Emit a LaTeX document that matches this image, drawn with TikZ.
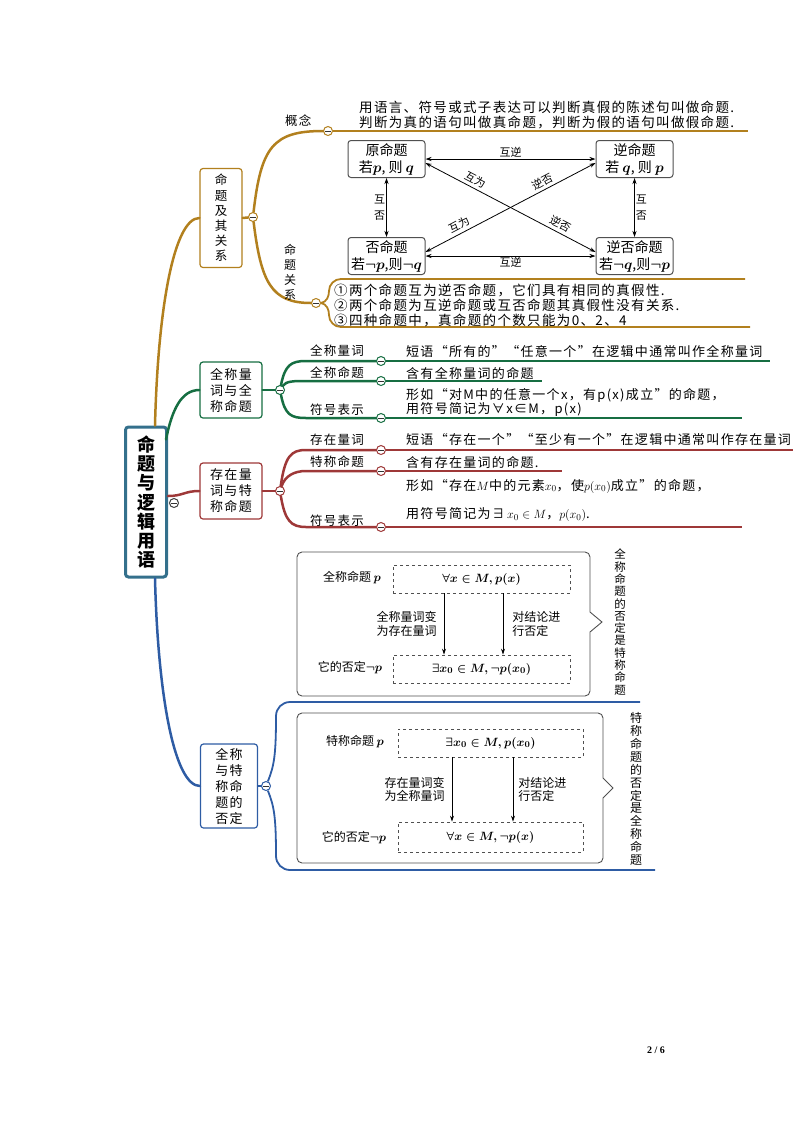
\documentclass[tikz,border=0pt]{standalone}
\usepackage{fontspec}
\usepackage{bm}
\setmainfont{Liberation Serif}
\newfontfamily\cjk{Noto Sans CJK SC}
\newfontfamily\cjkwide[LetterSpace=10]{Noto Sans CJK SC}
\usetikzlibrary{arrows.meta, positioning, calc}
\definecolor{rootcolor}{RGB}{52,112,140}
\definecolor{relcolor}{RGB}{178,128,30}
\definecolor{allcolor}{RGB}{22,110,66}
\definecolor{existcolor}{RGB}{158,56,56}
\definecolor{negcolor}{RGB}{46,92,164}
\definecolor{boxgray}{RGB}{80,80,80}

\begin{document}
\begin{tikzpicture}[
    x=1pt, y=-1pt,
    every node/.style={font=\cjk\fontsize{12}{14}\selectfont, inner sep=1pt},
    topic/.style={draw=#1, line width=1.2pt, rounded corners=3pt, fill=white, align=center, inner sep=2pt, font=\cjkwide\fontsize{13}{16}\selectfont},
    fold/.style={circle, draw=#1, fill=white, line width=1pt, minimum size=9pt, inner sep=0pt,
        path picture={\draw[line width=1pt, black!80] ([xshift=-2.6pt]path picture bounding box.center) -- ([xshift=2.6pt]path picture bounding box.center);}},
    branch/.style={draw=#1, line width=2.5pt, line cap=round},
    twig/.style={draw=#1, line width=1.3pt},
    tag/.style={font=\cjkwide\fontsize{12.5}{15}\selectfont, anchor=west},
    desc/.style={font=\cjkwide\fontsize{13}{15}\selectfont, anchor=west, align=left},
    prop/.style={draw=boxgray, line width=1pt, rounded corners=3pt, fill=white, minimum width=77pt, minimum height=37pt, align=center, inner sep=1pt, font=\cjk\fontsize{14}{17}\selectfont\boldmath},
    rel/.style={font=\cjk\fontsize{11}{16}\selectfont, inner sep=1pt, align=center},
    dual/.style={{Stealth[length=6pt,width=4pt]}-{Stealth[length=6pt,width=4pt]}, line width=0.8pt},
    flow/.style={-{Stealth[length=6pt,width=4pt]}, line width=0.8pt},
    dashbox/.style={draw=boxgray, dashed, line width=0.8pt, minimum height=28pt, font=\fontsize{12.5}{14}\selectfont\boldmath},
    note/.style={font=\cjk\fontsize{12}{13.5}\selectfont, align=left, inner sep=0pt},
    cell/.style={font=\cjk\fontsize{12}{14}\selectfont\boldmath},
    panel/.style={draw=boxgray, line width=0.9pt, rounded corners=5pt},
    sidecol/.style={font=\cjk\fontsize{11.5}{12.3}\selectfont, align=center, inner sep=0pt}
]
\useasboundingbox (0,0) rectangle (794,1122);

% central topic
\node[draw=rootcolor, line width=3pt, rounded corners=3pt, fill=white, minimum width=41pt, minimum height=150pt, align=center, font=\cjk\bfseries\fontsize{18}{19.2}\selectfont] (root) at (146,502) {命\\题\\与\\逻\\辑\\用\\语};
\node[fold=black!75] (f0) at (174,503) {};

% main topics
\node[topic=relcolor, minimum width=42pt, minimum height=99pt, font=\cjk\fontsize{12.5}{15.2}\selectfont] (rel) at (221,218) {命\\题\\及\\其\\关\\系};
\node[topic=allcolor, minimum width=62pt, minimum height=56pt] (all) at (231,390) {全称量\\词与全\\称命题};
\node[topic=existcolor, minimum width=62pt, minimum height=56pt] (exist) at (231,491) {存在量\\词与特\\称命题};
\node[topic=negcolor, minimum width=57pt, minimum height=84pt] (neg) at (229,786) {全称\\与特\\称命\\题的\\否定};

\draw[branch=relcolor] ([xshift=9pt]root.north) .. controls +(3,-120) and +(-25,0) .. (rel.west);
\draw[branch=allcolor] ([xshift=-2pt,yshift=-14pt]root.north east) .. controls +(6,-30) and +(-18,0) .. (all.west);
\draw[branch=existcolor] ([yshift=6pt]root.east) .. controls +(15,0) and +(-15,0) .. (exist.west);
\draw[branch=negcolor] ([xshift=9pt]root.south) .. controls +(3,120) and +(-25,0) .. (neg.west);

% propositions and their relations
\node[fold=relcolor] (f1) at (253,217) {};
\node[fold=relcolor] (f11) at (328,131) {};
\node[fold=relcolor] (f12) at (316,303) {};
\coordinate (c11) at (748,131);
\coordinate (r1) at (745,279);
\coordinate (r2) at (750,327);
\draw[branch=relcolor] (rel.east) -- (f1);
\draw[branch=relcolor] (f1) .. controls +(8,-70) and +(-55,0) .. (f11);
\draw[branch=relcolor] (f1) .. controls +(8,65) and +(-45,0) .. (f12);
\draw[twig=relcolor] (f11) -- (c11);
\draw[twig=relcolor, line width=1.8pt] (f12.east) to[out=10,in=-90] ++(8,-12) to[out=90,in=180] ++(12,-12) -- (r1);
\draw[twig=relcolor, line width=1.8pt] (f12.east) to[out=-10,in=90] ++(8,12) to[out=-90,in=180] ++(12,12) -- (r2);
\node[tag] (t11) at (284,121) {概念};
\node[rel, font=\cjk\fontsize{12}{15}\selectfont] (t12) at (290,272) {命\\题\\关\\系};
\node[desc, font=\cjkwide\fontsize{13.5}{15}\selectfont] (con) at (358,115) {用语言、符号或式子表达可以判断真假的陈述句叫做命题.\\判断为真的语句叫做真命题，判断为假的语句叫做假命题.};
\node[desc, font=\cjkwide\fontsize{13.5}{15}\selectfont] (facts) at (333,305) {①两个命题互为逆否命题，它们具有相同的真假性.\\②两个命题为互逆命题或互否命题其真假性没有关系.\\③四种命题中，真命题的个数只能为0、2、4};

\node[prop] (p0) at (386.5,159) {原命题\\若$p$, 则 $q$};
\node[prop] (p1) at (634.5,159) {逆命题\\若 $q$, 则 $p$};
\node[prop] (p2) at (386.5,256) {否命题\\若$\neg p$,则$\neg q$};
\node[prop] (p3) at (634.5,256) {逆否命题\\若$\neg q$,则$\neg p$};
\draw[dual] (p0) -- node[rel, above] {互逆} (p1);
\draw[dual] (p2) -- node[rel, below] {互逆} (p3);
\draw[dual] (p0) -- node[rel, left] {互\\否} (p2);
\draw[dual] (p1) -- node[rel, right] {互\\否} (p3);
\draw[dual] ([yshift=-4pt]p0.east) -- node[rel, sloped, above=2pt, pos=0.27] {互为} node[rel, sloped, above=2pt, pos=0.77] {逆否} ([yshift=4pt]p3.west);
\draw[dual] ([yshift=4pt]p2.east) -- node[rel, sloped, above=2pt, pos=0.22] {互为} node[rel, sloped, above=2pt, pos=0.71] {逆否} ([yshift=-4pt]p1.west);

% universal quantifier
\node[fold=allcolor] (f2) at (280,390) {};
\node[fold=allcolor] (f21) at (381,361) {};
\node[fold=allcolor] (f22) at (381,381) {};
\node[fold=allcolor] (f23) at (381,418) {};
\coordinate (g1) at (770,361);
\coordinate (g2) at (542,381);
\coordinate (g3) at (742,418);
\draw[branch=allcolor] (all.east) -- (f2);
\draw[branch=allcolor] (f2) .. controls +(5,-25) and +(-15,0) .. ([xshift=-75pt]f21.center) -- (f21);
\draw[branch=allcolor] (f2) .. controls +(6,-9) and +(-12,0) .. ([xshift=-75pt]f22.center) -- (f22);
\draw[branch=allcolor] (f2) .. controls +(5,25) and +(-15,0) .. ([xshift=-75pt]f23.center) -- (f23);
\draw[twig=allcolor] (f21) -- (g1);
\draw[twig=allcolor] (f22) -- (g2);
\draw[twig=allcolor] (f23) -- (g3);
\node[tag] (t21) at (309,351) {全称量词};
\node[tag] (t22) at (309,373) {全称命题};
\node[tag] (t23) at (309,410) {符号表示};
\node[desc] (d21) at (405,351) {短语“所有的”“任意一个”在逻辑中通常叫作全称量词};
\node[desc] (d22) at (405,373) {含有全称量词的命题};
\node[desc, font=\cjkwide\fontsize{13}{14}\selectfont] (d23) at (405,402) {形如“对M中的任意一个x，有p(x)成立”的命题，\\用符号简记为∀x∈M，p(x)};

% existential quantifier
\node[fold=existcolor] (f3) at (280,491) {};
\node[fold=existcolor] (f31) at (381,450) {};
\node[fold=existcolor] (f32) at (381,471) {};
\node[fold=existcolor] (f33) at (381,527) {};
\coordinate (h1) at (793,450);
\coordinate (h2) at (562,471);
\coordinate (h3) at (742,527);
\draw[branch=existcolor] (exist.east) -- (f3);
\draw[branch=existcolor] (f3) .. controls +(5,-35) and +(-15,0) .. ([xshift=-75pt]f31.center) -- (f31);
\draw[branch=existcolor] (f3) .. controls +(5,-15) and +(-12,0) .. ([xshift=-75pt]f32.center) -- (f32);
\draw[branch=existcolor] (f3) .. controls +(5,30) and +(-15,0) .. ([xshift=-75pt]f33.center) -- (f33);
\draw[twig=existcolor] (f31) -- (h1);
\draw[twig=existcolor] (f32) -- (h2);
\draw[twig=existcolor] (f33) -- (h3);
\node[tag] (t31) at (309,440) {存在量词};
\node[tag] (t32) at (309,462) {特称命题};
\node[tag] (t33) at (309,521) {符号表示};
\node[desc] (d31) at (405,440) {短语“存在一个”“至少有一个”在逻辑中通常叫作存在量词};
\node[desc] (d32) at (405,462) {含有存在量词的命题.};
\node[desc] (d33) at (405,486) {形如“存在$M$中的元素$x_0$，使$p(x_0)$成立”的命题，};
\node[desc] (d34) at (405,515) {用符号简记为∃\,$x_0\in M$，$p(x_0)$.};

% negation
\node[fold=negcolor] (f4) at (266,786) {};
\coordinate (b1) at (640,702);
\coordinate (b2) at (655,870);
\draw[branch=negcolor] (neg.east) -- (f4);
\draw[twig=negcolor, line width=1.8pt] (f4) .. controls +(8,-20) and +(0,40) .. ++(10,-70) to[out=90,in=180] ++(14,-14) -- (b1);
\draw[twig=negcolor, line width=1.8pt] (f4) .. controls +(8,20) and +(0,-40) .. ++(10,70) to[out=-90,in=180] ++(14,14) -- (b2);

\draw[panel] (297,552) -- (590,552) -- (590,604) [sharp corners] -- (590,612) -- (602,622) -- (590,632) -- (590,640) [rounded corners=5pt] -- (590,696) -- (297,696) -- cycle;
\node[cell] (q1) at (352,578) {全称命题 $p$};
\node[dashbox, minimum width=177pt] (q1f) at (481.5,579) {$\forall x\in M, p(x)$};
\node[dashbox, minimum width=177pt] (q1n) at (481.5,669) {$\exists x_0\in M, \neg p(x_0)$};
\node[cell] (q1s) at (350,668) {它的否定$\neg p$};
\draw[flow] ([xshift=-37.5pt]q1f.south) -- node[note, left=7pt] {全称量词变\\为存在量词} ([xshift=-37.5pt]q1n.north);
\draw[flow] ([xshift=21.5pt]q1f.south) -- node[note, right=9pt] {对结论进\\行否定} ([xshift=21.5pt]q1n.north);
\node[sidecol] (q1r) at (620,622) {全\\称\\命\\题\\的\\否\\定\\是\\特\\称\\命\\题};

\draw[panel] (297,713) -- (603,713) -- (603,770) [sharp corners] -- (603,778) -- (613,788) -- (603,798) -- (603,806) [rounded corners=5pt] -- (603,863) -- (297,863) -- cycle;
\node[cell] (q2) at (355,742) {特称命题 $p$};
\node[dashbox, minimum width=185pt] (q2f) at (490.5,743) {$\exists x_0\in M, p(x_0)$};
\node[dashbox, minimum width=185pt, minimum height=30pt] (q2n) at (490.5,837) {$\forall x\in M, \neg p(x)$};
\node[cell] (q2s) at (354,838) {它的否定$\neg p$};
\draw[flow] ([xshift=-38.5pt]q2f.south) -- node[note, left=7pt] {存在量词变\\为全称量词} ([xshift=-38.5pt]q2n.north);
\draw[flow] ([xshift=22.5pt]q2f.south) -- node[note, right=5pt] {对结论进\\行否定} ([xshift=22.5pt]q2n.north);
\node[sidecol, font=\cjk\fontsize{12}{12.9}\selectfont] (q2r) at (636,789) {特\\称\\命\\题\\的\\否\\定\\是\\全\\称\\命\\题};

\node[font=\bfseries\fontsize{10}{12}\selectfont] (pg) at (656,1050) {2 / 6};
\end{tikzpicture}
\end{document}
